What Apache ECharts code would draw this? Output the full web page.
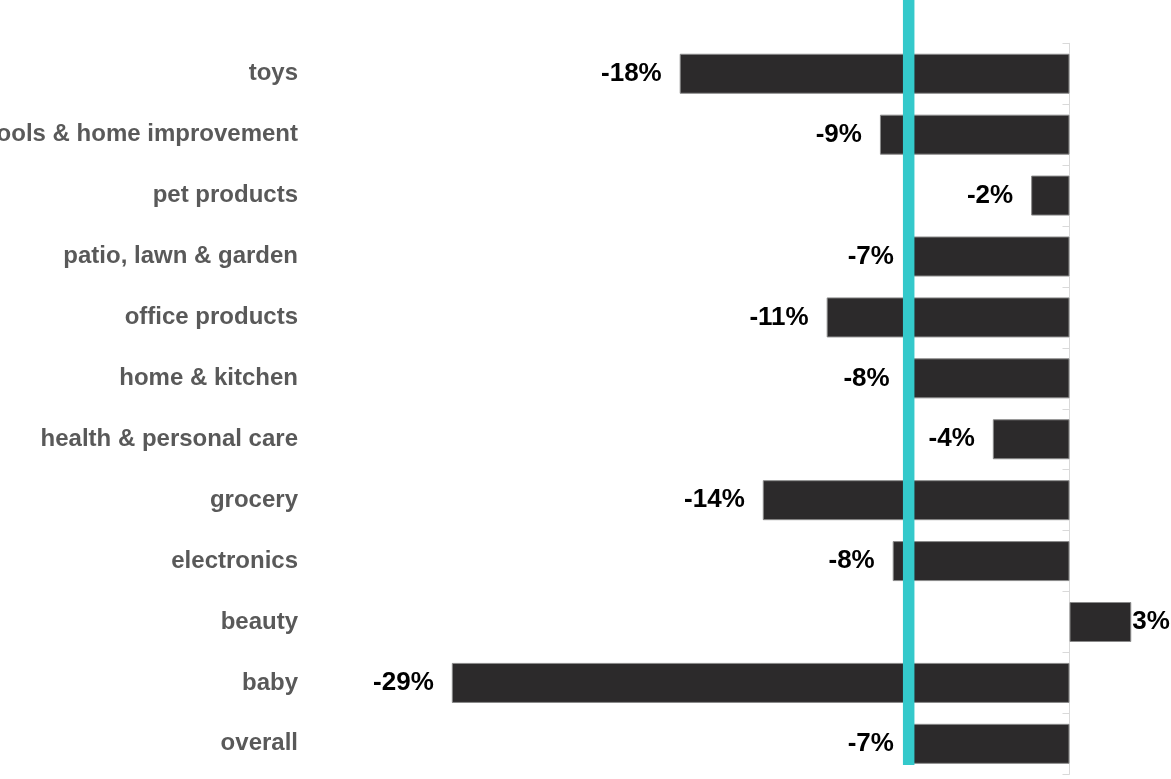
<!DOCTYPE html>
<html>
<head>
<meta charset="utf-8">
<title>Change by category</title>
<script src="https://cdn.jsdelivr.net/npm/echarts@6/dist/echarts.min.js"></script>
<style>
  html, body { margin: 0; padding: 0; background: #ffffff; }
  #chart { width: 1171px; height: 779px; }
</style>
</head>
<body>
<div id="chart"></div>
<script>
// Year-over-year change per category, top row first
const categories = [
  'toys',
  'tools & home improvement',
  'pet products',
  'patio, lawn & garden',
  'office products',
  'home & kitchen',
  'health & personal care',
  'grocery',
  'electronics',
  'beauty',
  'baby',
  'overall'
];
const changeValues = [-18.3, -8.9, -1.8, -7.4, -11.4, -7.6, -3.6, -14.4, -8.3, 2.9, -29.0, -7.4];

// Benchmark marker drawn as a vertical teal band
const benchmarkValue = -7.55;

// Value axis range
const axisMin = -35;
const axisMax = 4;

const FONT = '"Liberation Sans", Arial, Helvetica, sans-serif';
const BAR_COLOR = '#2c2a2b';
const TEAL = '#34c9cb';

const barData = changeValues.map(v => ({
  value: v,
  label: {
    position: v < 0 ? 'left' : 'right',
    distance: v < 0 ? 18 : 1
  }
}));

const chart = echarts.init(document.getElementById('chart'), null, { renderer: 'canvas' });

chart.setOption({
  animation: false,
  backgroundColor: '#ffffff',
  grid: [
    { left: 324, right: 16.3, top: 43.3, bottom: 4.7, outerBoundsMode: 'none', containLabel: false },
    { left: 324, right: 16.3, top: 0, bottom: 14, outerBoundsMode: 'none', containLabel: false }
  ],
  xAxis: [
    {
      gridIndex: 0, type: 'value', min: axisMin, max: axisMax,
      show: false, splitLine: { show: false }
    },
    {
      gridIndex: 1, type: 'value', min: axisMin, max: axisMax,
      show: false, splitLine: { show: false }
    }
  ],
  yAxis: [
    {
      // category names on the left
      gridIndex: 0, type: 'category', data: categories, inverse: true,
      position: 'left',
      axisLine: { show: false, onZero: false },
      axisTick: { show: false },
      axisLabel: {
        margin: 26,
        color: '#595959',
        fontFamily: FONT,
        fontWeight: 'bold',
        fontSize: 24,
        padding: [3, 0, 0, 0]
      }
    },
    {
      // zero baseline with category tick marks
      gridIndex: 0, type: 'category', data: categories, inverse: true,
      position: 'left',
      axisLine: { show: true, onZero: true, lineStyle: { color: '#d9d9d9', width: 1 } },
      axisTick: { show: true, length: 7, lineStyle: { color: '#d9d9d9', width: 1 } },
      axisLabel: { show: false }
    },
    {
      gridIndex: 1, type: 'value', min: 0, max: 1, show: false,
      splitLine: { show: false }
    }
  ],
  series: [
    {
      type: 'bar',
      xAxisIndex: 0,
      yAxisIndex: 0,
      data: barData,
      barWidth: 40,
      itemStyle: { color: BAR_COLOR, borderColor: '#8a8a8a', borderWidth: 1 },
      label: {
        show: true,
        color: '#000000',
        fontFamily: FONT,
        fontWeight: 'bold',
        fontSize: 26,
        formatter: p => Math.round(p.value) + '%'
      },
      z: 2,
      silent: true
    },
    {
      type: 'line',
      xAxisIndex: 1,
      yAxisIndex: 2,
      data: [[benchmarkValue, 0], [benchmarkValue, 1]],
      symbol: 'none',
      lineStyle: { color: TEAL, width: 11.5, cap: 'butt' },
      z: 5,
      silent: true
    }
  ]
});
</script>
</body>
</html>
